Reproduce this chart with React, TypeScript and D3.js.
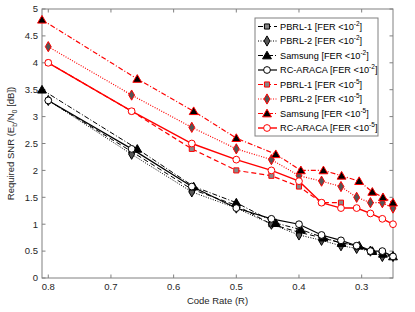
import React from "react";
import * as d3 from "d3";

const rates = [0.8, 0.667, 0.571, 0.5, 0.444, 0.4, 0.364, 0.333, 0.308, 0.286, 0.267, 0.25];
const samsungRates = [0.81, 0.658, 0.568, 0.5, 0.437, 0.397, 0.361, 0.332, 0.304, 0.283, 0.266, 0.25];

const pbrl1Fer2 = [3.3, 2.35, 1.65, 1.35, 1.0, 0.85, 0.75, 0.65, 0.6, 0.5, 0.45, 0.4];
const pbrl2Fer2 = [3.3, 2.3, 1.6, 1.3, 1.0, 0.8, 0.7, 0.6, 0.55, 0.5, 0.4, 0.4];
const samsungFer2 = [3.5, 2.4, 1.7, 1.4, 1.02, 0.9, 0.75, 0.65, 0.6, 0.5, 0.45, 0.4];
const rcFer2 = [3.3, 2.4, 1.7, 1.3, 1.1, 1.0, 0.8, 0.7, 0.6, 0.5, 0.5, 0.4];

const pbrl1Fer5 = [4.0, 3.1, 2.4, 2.0, 1.9, 1.7, 1.4, 1.4];
const pbrl2Fer5 = [4.3, 3.4, 2.8, 2.4, 2.2, 1.9, 1.8, 1.7, 1.5, 1.4, 1.4, 1.3];
const samsungFer5 = [4.8, 3.7, 3.1, 2.6, 2.3, 2.0, 2.0, 1.9, 1.8, 1.6, 1.5, 1.4];
const rcFer5 = [4.0, 3.1, 2.5, 2.2, 2.0, 1.8, 1.4, 1.3, 1.3, 1.2, 1.1, 1.0];

const xTicks = [0.8, 0.7, 0.6, 0.5, 0.4, 0.3];
const yTicks = [0, 0.5, 1, 1.5, 2, 2.5, 3, 3.5, 4, 4.5, 5];

type Series = {
  name: string;
  exp: string;
  xs: number[];
  ys: number[];
  color: string;
  dash: string;
  marker: "square" | "diamond" | "triangle" | "circle";
  fill: string;
  width: number;
};

const series: Series[] = [
  { name: "PBRL-1", exp: "-2", xs: rates, ys: pbrl1Fer2, color: "#000", dash: "5,3", marker: "square", fill: "#888", width: 1 },
  { name: "PBRL-2", exp: "-2", xs: rates, ys: pbrl2Fer2, color: "#000", dash: "1,1.5", marker: "diamond", fill: "#555", width: 1 },
  { name: "Samsung", exp: "-2", xs: samsungRates, ys: samsungFer2, color: "#000", dash: "5,2,1,2", marker: "triangle", fill: "#000", width: 1 },
  { name: "RC-ARACA", exp: "-2", xs: rates, ys: rcFer2, color: "#000", dash: "", marker: "circle", fill: "#fff", width: 1.2 },
  { name: "PBRL-1", exp: "-5", xs: rates, ys: pbrl1Fer5, color: "#ff0000", dash: "5,3", marker: "square", fill: "#888", width: 1.2 },
  { name: "PBRL-2", exp: "-5", xs: rates, ys: pbrl2Fer5, color: "#ff0000", dash: "1,1.5", marker: "diamond", fill: "#555", width: 1.2 },
  { name: "Samsung", exp: "-5", xs: samsungRates, ys: samsungFer5, color: "#ff0000", dash: "5,2,1,2", marker: "triangle", fill: "#000", width: 1.2 },
  { name: "RC-ARACA", exp: "-5", xs: rates, ys: rcFer5, color: "#ff0000", dash: "", marker: "circle", fill: "#fff", width: 1.4 },
];

const W = 415;
const H = 312;
const left = 42;
const right = 393;
const top = 9;
const bottom = 278;

const x = d3.scaleLinear().domain([0.81, 0.25]).range([left, right]);
const y = d3.scaleLinear().domain([0, 5]).range([bottom, top]);

const symbolType = {
  square: d3.symbolSquare,
  diamond: d3.symbolDiamond,
  triangle: d3.symbolTriangle,
  circle: d3.symbolCircle,
};
const symbolSize = { square: 26, diamond: 30, triangle: 34, circle: 36 };

function Marker({ s, cx, cy }: { s: Series; cx: number; cy: number }) {
  const p = d3.symbol().type(symbolType[s.marker]).size(symbolSize[s.marker])() || "";
  const transform =
    s.marker === "triangle" ? `translate(${cx},${cy + 0.8})` : `translate(${cx},${cy})`;
  return <path d={p} transform={transform} fill={s.fill} stroke={s.color} strokeWidth={1} />;
}

export default function App() {
  const font = "'Liberation Sans', Arial, sans-serif";
  const line = d3
    .line<[number, number]>()
    .x((d) => x(d[0]))
    .y((d) => y(d[1]));
  const axisColor = "#808080";
  const textColor = "#262626";

  const legX = 255;
  const legY = 18;
  const legW = 123;
  const rowH = 14.5;
  const legH = rowH * 8 + 2;

  return (
    <svg width={W} height={H} style={{ position: "absolute", left: 0, top: 0, background: "#fff" }}>
      <rect x={0} y={0} width={W} height={H} fill="#fff" />
      <rect x={left} y={top} width={right - left} height={bottom - top} fill="none" stroke={axisColor} strokeWidth={1} />
      {xTicks.map((t) => (
        <g key={"x" + t}>
          <line x1={x(t)} x2={x(t)} y1={bottom} y2={bottom - 3.5} stroke={axisColor} />
          <line x1={x(t)} x2={x(t)} y1={top} y2={top + 3.5} stroke={axisColor} />
          <text x={x(t)} y={bottom + 12} fontSize={9.5} fontFamily={font} fill={textColor} textAnchor="middle">
            {t.toString()}
          </text>
        </g>
      ))}
      {yTicks.map((t) => (
        <g key={"y" + t}>
          <line x1={left} x2={left + 3.5} y1={y(t)} y2={y(t)} stroke={axisColor} />
          <line x1={right} x2={right - 3.5} y1={y(t)} y2={y(t)} stroke={axisColor} />
          <text x={left - 4} y={y(t) + 3.3} fontSize={9.5} fontFamily={font} fill={textColor} textAnchor="end">
            {t.toString()}
          </text>
        </g>
      ))}
      <text x={(left + right) / 2} y={bottom + 26} fontSize={9.5} fontFamily={font} fill={textColor} textAnchor="middle">
        Code Rate (R)
      </text>
      <text
        transform={`translate(14,${(top + bottom) / 2}) rotate(-90)`}
        fontSize={9.5}
        fontFamily={font}
        fill={textColor}
        textAnchor="middle"
      >
        Required SNR (E
        <tspan fontSize={7} dy={3}>b</tspan>
        <tspan dy={-3}>/N</tspan>
        <tspan fontSize={7} dy={3}>0</tspan>
        <tspan dy={-3}> [dB])</tspan>
      </text>

      {series.map((s, i) => {
        const pts = s.ys.map((v, j) => [s.xs[j], v] as [number, number]);
        return (
          <g key={"s" + i}>
            <path d={line(pts) || ""} fill="none" stroke={s.color} strokeWidth={s.width} strokeDasharray={s.dash || undefined} />
            {pts.map((p, j) => (
              <Marker key={j} s={s} cx={x(p[0])} cy={y(p[1])} />
            ))}
          </g>
        );
      })}

      <rect x={legX} y={legY} width={legW} height={legH} fill="#fff" stroke={axisColor} strokeWidth={1} />
      {series.map((s, i) => {
        const cy = legY + 8.5 + i * rowH;
        return (
          <g key={"l" + i}>
            <line x1={legX + 3} x2={legX + 22} y1={cy} y2={cy} stroke={s.color} strokeWidth={s.width} strokeDasharray={s.dash || undefined} />
            <Marker s={s} cx={legX + 12} cy={cy} />
            <text x={legX + 25} y={cy + 3.3} fontSize={9.2} fontFamily={font} fill="#000">
              {s.name} [FER &lt;10
              <tspan fontSize={6.5} dy={-4}>{s.exp}</tspan>
              <tspan dy={4}>]</tspan>
            </text>
          </g>
        );
      })}
    </svg>
  );
}
